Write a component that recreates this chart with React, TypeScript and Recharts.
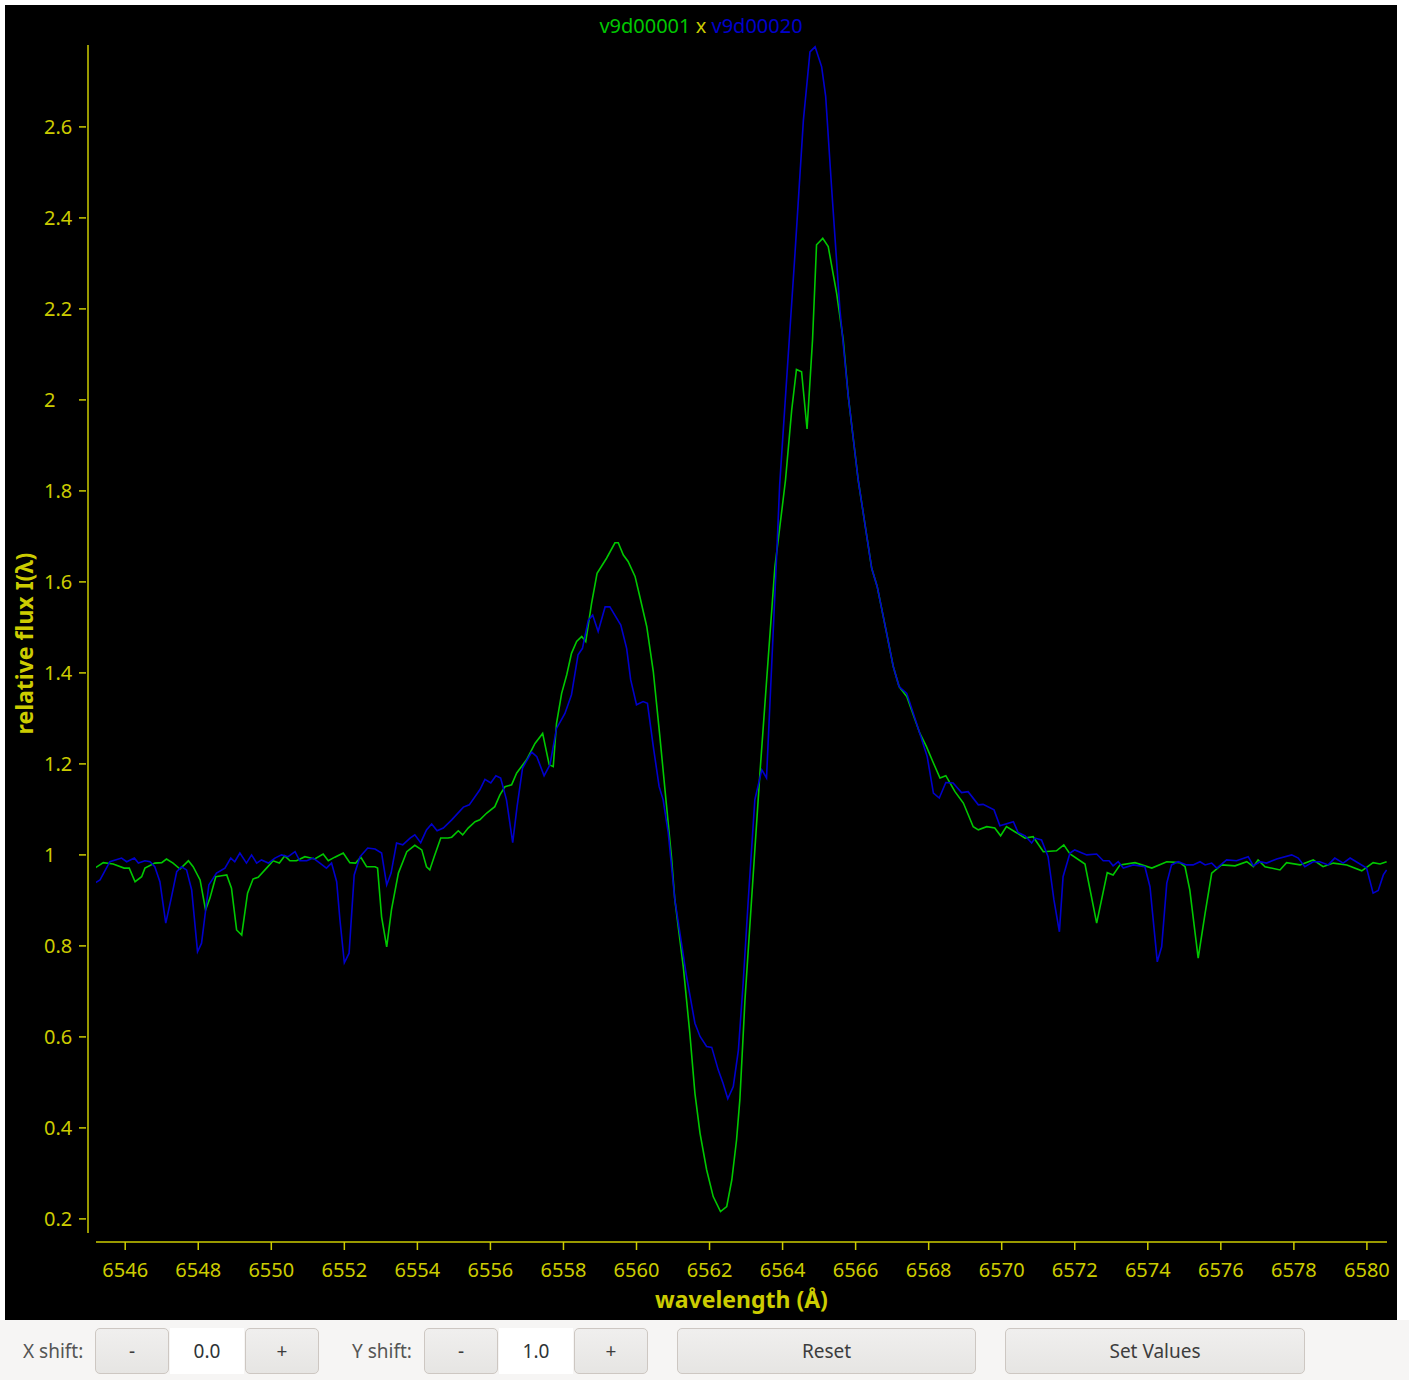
import React from 'react';
import { LineChart, Line, XAxis, YAxis, Label } from 'recharts';

// v9d00001 (green)
const wlA = [
  6545.17, 6545.40, 6545.67, 6545.97, 6546.11, 6546.27, 6546.45, 6546.54, 6546.81, 6547.00,
  6547.13, 6547.31, 6547.50, 6547.73, 6547.86, 6548.05, 6548.20, 6548.32, 6548.48, 6548.64,
  6548.78, 6548.91, 6549.05, 6549.19, 6549.35, 6549.50, 6549.64, 6549.87, 6550.05, 6550.22,
  6550.37, 6550.51, 6550.69, 6550.92, 6551.19, 6551.42, 6551.56, 6551.74, 6551.97, 6552.15,
  6552.31, 6552.45, 6552.61, 6552.84, 6552.91, 6553.02, 6553.16, 6553.29, 6553.48, 6553.71,
  6553.93, 6554.12, 6554.25, 6554.34, 6554.46, 6554.64, 6554.84, 6554.94, 6555.12, 6555.24,
  6555.39, 6555.58, 6555.71, 6555.90, 6556.12, 6556.26, 6556.40, 6556.58, 6556.72, 6556.99,
  6557.22, 6557.43, 6557.61, 6557.72, 6557.81, 6557.95, 6558.09, 6558.22, 6558.36, 6558.50,
  6558.61, 6558.77, 6558.92, 6559.18, 6559.41, 6559.50, 6559.64, 6559.77, 6559.96, 6560.09,
  6560.28, 6560.46, 6560.64, 6560.82, 6560.96, 6561.05, 6561.28, 6561.46, 6561.60, 6561.74,
  6561.92, 6562.10, 6562.30, 6562.47, 6562.61, 6562.74, 6562.83, 6562.97, 6563.15, 6563.38,
  6563.61, 6563.79, 6563.97, 6564.08, 6564.25, 6564.38, 6564.52, 6564.67, 6564.82, 6564.93,
  6565.10, 6565.25, 6565.48, 6565.66, 6565.80, 6566.07, 6566.44, 6566.59, 6566.85, 6567.03,
  6567.19, 6567.40, 6567.76, 6567.94, 6568.13, 6568.31, 6568.47, 6568.72, 6568.95, 6569.22,
  6569.36, 6569.59, 6569.81, 6569.97, 6570.13, 6570.36, 6570.64, 6570.86, 6571.14, 6571.50,
  6571.70, 6571.87, 6572.28, 6572.60, 6572.89, 6573.05, 6573.24, 6573.65, 6574.11, 6574.52,
  6574.88, 6575.02, 6575.15, 6575.38, 6575.57, 6575.75, 6576.02, 6576.39, 6576.71, 6576.89,
  6577.02, 6577.21, 6577.62, 6577.80, 6578.17, 6578.53, 6578.80, 6579.08, 6579.45, 6579.86,
  6580.17, 6580.36, 6580.54,
];
const fluxA = [
  0.971, 0.983, 0.980, 0.971, 0.971, 0.941, 0.952, 0.971, 0.982, 0.983,
  0.991, 0.982, 0.969, 0.987, 0.974, 0.945, 0.879, 0.905, 0.952, 0.954,
  0.956, 0.927, 0.835, 0.824, 0.916, 0.947, 0.951, 0.971, 0.987, 0.982,
  0.998, 0.987, 0.987, 0.996, 0.991, 1.002, 0.987, 0.995, 1.004, 0.983,
  0.982, 0.995, 0.974, 0.974, 0.971, 0.864, 0.798, 0.879, 0.960, 1.007,
  1.021, 1.011, 0.974, 0.967, 0.996, 1.037, 1.037, 1.039, 1.053, 1.044,
  1.059, 1.073, 1.077, 1.092, 1.106, 1.132, 1.150, 1.154, 1.180, 1.209,
  1.245, 1.267, 1.198, 1.194, 1.289, 1.355, 1.396, 1.443, 1.469, 1.480,
  1.469, 1.553, 1.619, 1.652, 1.686, 1.686, 1.659, 1.645, 1.612, 1.568,
  1.502, 1.403, 1.260, 1.110, 0.993, 0.901, 0.755, 0.608, 0.476, 0.388,
  0.308, 0.249, 0.216, 0.227, 0.286, 0.374, 0.462, 0.681, 0.901, 1.180,
  1.436, 1.633, 1.751, 1.824, 1.978, 2.067, 2.062, 1.936, 2.132, 2.341,
  2.355, 2.337, 2.234, 2.132, 2.007, 1.824, 1.630, 1.590, 1.487, 1.414,
  1.370, 1.348, 1.267, 1.238, 1.202, 1.169, 1.174, 1.139, 1.114, 1.062,
  1.055, 1.062, 1.059, 1.042, 1.062, 1.051, 1.037, 1.040, 1.007, 1.009,
  1.022, 1.002, 0.980, 0.850, 0.961, 0.956, 0.978, 0.983, 0.971, 0.985,
  0.983, 0.974, 0.923, 0.773, 0.872, 0.960, 0.978, 0.976, 0.985, 0.974,
  0.989, 0.974, 0.967, 0.983, 0.978, 0.989, 0.974, 0.982, 0.978, 0.965,
  0.983, 0.980, 0.985,
];

// v9d00020 (blue)
const wlB = [
  6545.17, 6545.31, 6545.58, 6545.90, 6546.04, 6546.25, 6546.36, 6546.54, 6546.68, 6546.81,
  6546.95, 6547.11, 6547.25, 6547.41, 6547.54, 6547.68, 6547.82, 6547.98, 6548.09, 6548.18,
  6548.29, 6548.50, 6548.73, 6548.89, 6549.00, 6549.14, 6549.32, 6549.46, 6549.60, 6549.73,
  6549.92, 6550.10, 6550.28, 6550.46, 6550.65, 6550.78, 6550.97, 6551.15, 6551.33, 6551.51,
  6551.65, 6551.79, 6551.88, 6552.00, 6552.13, 6552.27, 6552.43, 6552.64, 6552.84, 6553.02,
  6553.16, 6553.28, 6553.43, 6553.60, 6553.80, 6553.93, 6554.09, 6554.25, 6554.39, 6554.54,
  6554.71, 6554.94, 6555.26, 6555.42, 6555.71, 6555.85, 6556.01, 6556.15, 6556.28, 6556.44,
  6556.61, 6556.73, 6556.88, 6557.13, 6557.27, 6557.47, 6557.63, 6557.81, 6558.04, 6558.22,
  6558.40, 6558.52, 6558.68, 6558.80, 6558.95, 6559.14, 6559.27, 6559.57, 6559.73, 6559.84,
  6560.00, 6560.18, 6560.30, 6560.46, 6560.62, 6560.73, 6560.87, 6561.05, 6561.37, 6561.60,
  6561.74, 6561.92, 6562.06, 6562.24, 6562.37, 6562.50, 6562.65, 6562.79, 6562.92, 6563.06,
  6563.24, 6563.43, 6563.56, 6563.70, 6563.84, 6563.92, 6564.11, 6564.34, 6564.57, 6564.75,
  6564.89, 6565.07, 6565.18, 6565.34, 6565.57, 6565.80, 6566.07, 6566.44, 6566.59, 6566.85,
  6567.03, 6567.19, 6567.40, 6567.67, 6567.96, 6568.13, 6568.29, 6568.47, 6568.67, 6568.90,
  6569.08, 6569.36, 6569.49, 6569.79, 6569.95, 6570.32, 6570.45, 6570.64, 6570.82, 6570.91,
  6571.09, 6571.27, 6571.43, 6571.58, 6571.68, 6571.87, 6572.00, 6572.33, 6572.60, 6572.78,
  6572.94, 6573.05, 6573.19, 6573.33, 6573.60, 6573.92, 6574.06, 6574.26, 6574.38, 6574.52,
  6574.65, 6574.83, 6575.06, 6575.24, 6575.43, 6575.57, 6575.75, 6575.89, 6576.16, 6576.43,
  6576.75, 6576.89, 6577.07, 6577.25, 6577.53, 6577.94, 6578.12, 6578.30, 6578.53, 6578.71,
  6578.94, 6579.12, 6579.35, 6579.54, 6579.99, 6580.17, 6580.31, 6580.45, 6580.54,
];
const fluxB = [
  0.938, 0.945, 0.985, 0.993, 0.985, 0.993, 0.982, 0.987, 0.985, 0.974,
  0.941, 0.850, 0.901, 0.963, 0.974, 0.967, 0.923, 0.787, 0.806, 0.864,
  0.934, 0.960, 0.971, 0.993, 0.985, 1.004, 0.982, 1.000, 0.982, 0.989,
  0.982, 0.993, 1.000, 0.996, 1.007, 0.987, 0.987, 0.993, 0.982, 0.971,
  0.982, 0.941, 0.857, 0.763, 0.784, 0.956, 0.996, 1.015, 1.013, 1.004,
  0.934, 0.960, 1.026, 1.022, 1.037, 1.044, 1.027, 1.055, 1.068, 1.053,
  1.059, 1.077, 1.105, 1.110, 1.143, 1.166, 1.158, 1.174, 1.169, 1.121,
  1.027, 1.106, 1.191, 1.226, 1.216, 1.174, 1.198, 1.278, 1.311, 1.352,
  1.440, 1.454, 1.516, 1.527, 1.491, 1.545, 1.545, 1.505, 1.454, 1.385,
  1.330, 1.337, 1.333, 1.238, 1.150, 1.121, 1.048, 0.901, 0.733, 0.630,
  0.601, 0.579, 0.577, 0.527, 0.498, 0.464, 0.491, 0.571, 0.718, 0.901,
  1.121, 1.187, 1.169, 1.414, 1.663, 1.813, 2.044, 2.322, 2.615, 2.765,
  2.776, 2.732, 2.667, 2.469, 2.198, 2.007, 1.824, 1.630, 1.590, 1.487,
  1.414, 1.370, 1.355, 1.289, 1.216, 1.136, 1.125, 1.159, 1.158, 1.137,
  1.139, 1.110, 1.111, 1.099, 1.064, 1.073, 1.049, 1.042, 1.026, 1.037,
  1.033, 0.996, 0.901, 0.831, 0.952, 1.004, 1.011, 1.000, 1.002, 0.987,
  0.987, 0.976, 0.985, 0.971, 0.978, 0.974, 0.930, 0.765, 0.798, 0.938,
  0.978, 0.985, 0.978, 0.978, 0.985, 0.978, 0.982, 0.971, 0.989, 0.987,
  0.996, 0.976, 0.985, 0.982, 0.991, 1.000, 0.993, 0.974, 0.985, 0.985,
  0.978, 0.993, 0.982, 0.993, 0.971, 0.916, 0.922, 0.956, 0.967,
];

const xTicks = [6546, 6548, 6550, 6552, 6554, 6556, 6558, 6560, 6562, 6564, 6566, 6568, 6570, 6572, 6574, 6576, 6578, 6580];
const yTicks = [0.2, 0.4, 0.6, 0.8, 1, 1.2, 1.4, 1.6, 1.8, 2, 2.2, 2.4, 2.6];

const nameA = 'v9d00001';
const nameB = 'v9d00020';

const YELLOW = '#cccc00';
const GREEN = '#00c800';
const BLUE = '#0000cc';
const FONT = '"Noto Sans", sans-serif';

const specA = wlA.map((w, i) => ({ wl: w, flux: fluxA[i] }));
const specB = wlB.map((w, i) => ({ wl: w, flux: fluxB[i] }));

// left-aligned labels with a short tick that stops just short of the axis
const YTick = ({ x, y, payload }: any) => (
  <g>
    <line x1={x} x2={x + 7} y1={y} y2={y} stroke={YELLOW} strokeWidth={1.5} />
    <text x={x - 35} y={y} dy="0.35em" textAnchor="start" fill={YELLOW} fontSize={20} fontFamily={FONT}>
      {String(payload.value)}
    </text>
  </g>
);

const btn: React.CSSProperties = {
  position: 'absolute',
  top: 1328,
  height: 46,
  boxSizing: 'border-box',
  border: '1px solid #cdc7c2',
  borderRadius: 5,
  background: 'linear-gradient(#f0efee, #e6e5e3)',
  color: '#3d3d3d',
  fontSize: 19,
  fontFamily: FONT,
  display: 'flex',
  alignItems: 'center',
  justifyContent: 'center',
};

const entry: React.CSSProperties = {
  position: 'absolute',
  top: 1328,
  height: 46,
  background: '#ffffff',
  color: '#2e3436',
  fontSize: 19,
  fontFamily: FONT,
  display: 'flex',
  alignItems: 'center',
  justifyContent: 'center',
};

const caption: React.CSSProperties = {
  position: 'absolute',
  top: 1328,
  height: 46,
  color: '#555',
  fontSize: 19,
  fontFamily: FONT,
  display: 'flex',
  alignItems: 'center',
};

export default function App() {
  return (
    <div style={{ position: 'absolute', left: 0, top: 0, width: 1409, height: 1380, background: '#ffffff', fontFamily: FONT, overflow: 'hidden' }}>
      <div style={{ position: 'absolute', left: 5, top: 5, width: 1392, height: 1315, background: '#000000' }}>
        <div style={{ position: 'absolute', left: 0, top: 8, width: 1392, textAlign: 'center', fontSize: 20, lineHeight: '26px', zIndex: 2 }}>
          <span style={{ color: GREEN }}>{nameA}</span>
          <span style={{ color: YELLOW }}> x </span>
          <span style={{ color: BLUE }}>{nameB}</span>
        </div>
        <LineChart width={1392} height={1315} margin={{ top: 40, right: 10, bottom: 0, left: 0 }}>
          <XAxis
            dataKey="wl"
            type="number"
            domain={[6545.2, 6580.55]}
            allowDataOverflow
            ticks={xTicks}
            interval={0}
            height={78}
            padding={{ left: 8, right: 0 }}
            axisLine={{ stroke: YELLOW, strokeWidth: 1.5, strokeDasharray: '0 8 1400' }}
            tickLine={{ stroke: YELLOW, strokeWidth: 1.5 }}
            tickSize={8}
            tickMargin={13}
            tick={{ fill: YELLOW, fontSize: 20, fontFamily: FONT }}
          >
            <Label
              content={({ viewBox }: any) => (
                <text
                  x={viewBox.x + 8 + (viewBox.width - 8) / 2}
                  y={viewBox.y + 58}
                  dy="0.35em"
                  textAnchor="middle"
                  fill={YELLOW}
                  fontSize={23}
                  fontWeight="bold"
                  fontFamily={FONT}
                >
                  wavelength (Å)
                </text>
              )}
            />
          </XAxis>
          <YAxis
            dataKey="flux"
            type="number"
            domain={[0.169, 2.78]}
            allowDataOverflow
            ticks={yTicks}
            interval={0}
            width={83}
            padding={{ top: 0, bottom: 9 }}
            axisLine={{ stroke: YELLOW, strokeWidth: 1.5, strokeDasharray: '1188 100' }}
            tickLine={false}
            tickSize={9}
            tickMargin={0}
            tick={<YTick />}
          >
            <Label
              content={({ viewBox }: any) => {
                const cx = viewBox.x + 20;
                const cy = viewBox.y + viewBox.height / 2;
                return (
                  <text
                    x={cx}
                    y={cy}
                    dy="0.35em"
                    textAnchor="middle"
                    transform={`rotate(-90, ${cx}, ${cy})`}
                    fill={YELLOW}
                    fontSize={23}
                    fontWeight="bold"
                    fontFamily={FONT}
                  >
                    relative flux I(λ)
                  </text>
                );
              }}
            />
          </YAxis>
          <Line data={specA} dataKey="flux" name={nameA} type="linear" stroke={GREEN} strokeWidth={1.6} dot={false} isAnimationActive={false} />
          <Line data={specB} dataKey="flux" name={nameB} type="linear" stroke={BLUE} strokeWidth={1.6} dot={false} isAnimationActive={false} />
        </LineChart>
      </div>

      <div style={{ position: 'absolute', left: 0, top: 1320, width: 1409, height: 60, background: '#f6f5f4' }} />
      <div style={{ ...caption, left: 23 }}>X shift:</div>
      <div style={{ ...btn, left: 95, width: 74 }}>-</div>
      <div style={{ ...entry, left: 170, width: 74 }}>0.0</div>
      <div style={{ ...btn, left: 245, width: 74 }}>+</div>
      <div style={{ ...caption, left: 352 }}>Y shift:</div>
      <div style={{ ...btn, left: 424, width: 74 }}>-</div>
      <div style={{ ...entry, left: 499, width: 74 }}>1.0</div>
      <div style={{ ...btn, left: 574, width: 74 }}>+</div>
      <div style={{ ...btn, left: 677, width: 299 }}>Reset</div>
      <div style={{ ...btn, left: 1005, width: 300 }}>Set Values</div>
    </div>
  );
}
